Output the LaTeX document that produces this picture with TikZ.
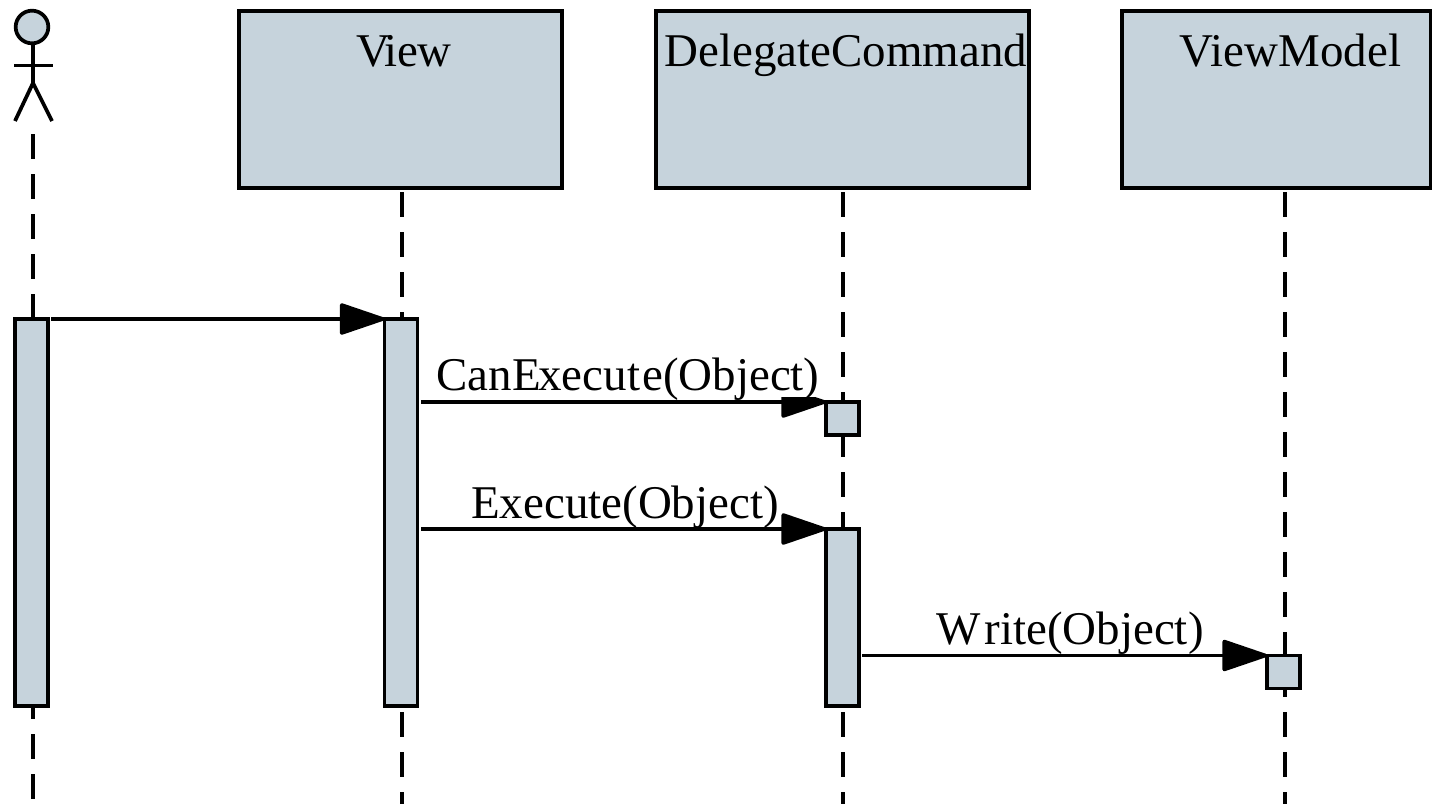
\documentclass[tikz,border=0pt]{standalone}
\usepackage{fontspec}
\setmainfont[Kerning=Off]{Liberation Serif}
\usetikzlibrary{arrows.meta}
\definecolor{boxfill}{HTML}{C6D3DC}
\tikzset{
  x=0.75pt,y=-0.75pt,
  every node/.style={outer sep=0pt},
  ink/.style={line width=2.8pt,draw=black},
  headbox/.style={ink,fill=boxfill,rectangle,inner sep=0pt,minimum width=#1*0.75pt,minimum height=132.75pt},
  bar/.style={ink,fill=boxfill,rectangle,inner sep=0pt,minimum width=24.75pt,minimum height=#1*0.75pt},
  lifeline/.style={line width=2.8pt,dash pattern=on 18.75pt off 11.25pt},
  message/.style={line width=2.8pt,-{Triangle[length=36.5pt,width=24pt,round]},shorten >=0pt},
  headtext/.style={anchor=base,inner sep=0pt,font=\fontsize{35.2}{40}\selectfont},
  msgtext/.style={anchor=base,inner sep=0pt,fill=white,text depth=5.6pt,font=\fontsize{35.2}{40}\selectfont},
  limb/.style={line width=2.8pt}
}
\begin{document}
\begin{tikzpicture}
\useasboundingbox (0,0) rectangle (1432,804);
% actor
\node[ink,fill=boxfill,circle,inner sep=0pt,minimum size=24.5pt] (actor) at (32,27) {};
\coordinate (hip) at (33,83);
\coordinate (armL) at (14,65.5);
\coordinate (armR) at (53,65.5);
\coordinate (footL) at (15,121);
\coordinate (footR) at (52,121);
\coordinate (neck) at (33,44);
\draw[limb] (neck) -- (hip);
\draw[limb] (armL) -- (armR);
\draw[limb] (footL) -- (hip) -- (footR);
% head boxes
\node[headbox=323] (view) at (400.5,99.5) {};
\node[headbox=373] (cmd) at (842.5,99.5) {};
\node[headbox=309] (vm) at (1276.5,99.5) {};
\node[headtext] (viewt) at (404,66) {V\kern-4.5pt iew};
\node[headtext] (cmdt) at (846,66) {DelegateCommand};
\node[headtext] (vmt) at (1290.5,66) {V\kern-2.25pt iewModel};
% lifelines
\coordinate (l0a) at (33,134); \coordinate (l0b) at (33,804);
\coordinate (l1a) at (402,192); \coordinate (l1b) at (402,804);
\coordinate (l2a) at (843,192); \coordinate (l2b) at (843,804);
\coordinate (l3a) at (1285,192); \coordinate (l3b) at (1285,804);
\draw[lifeline] (l0a) -- (l0b);
\draw[lifeline] (l1a) -- (l1b);
\draw[lifeline] (l2a) -- (l2b);
\draw[lifeline] (l3a) -- (l3b);
% activation bars
\node[bar=387] (b0) at (31.5,512.5) {};
\node[bar=387] (b1) at (401,512.5) {};
\node[bar=33] (b2) at (842.5,418.5) {};
\node[bar=177] (b3) at (842.5,617.5) {};
\node[bar=33] (b4) at (1283.5,672) {};
% messages
\coordinate (m0) at (51,319);
\coordinate (m1) at (421,402);
\coordinate (m2) at (421,529);
\coordinate (m3) at (862,655.5);
\draw[message] (m0) -- (b1.north west);
\draw[message] (m1) -- (b2.north west);
\draw[message] (m2) -- (b3.north west);
\draw[message] (m3) -- (b4.north west);
% labels
\node[msgtext] (t1) at (628,390) {CanE\kern-2pt xecu\kern1pt t\kern1pt e(Object)};
\node[msgtext] (t2) at (625,518) {Execute(Object)};
\node[msgtext] (t3) at (1070,644) {W\kern3pt rite(Object)};
\end{tikzpicture}
\end{document}
